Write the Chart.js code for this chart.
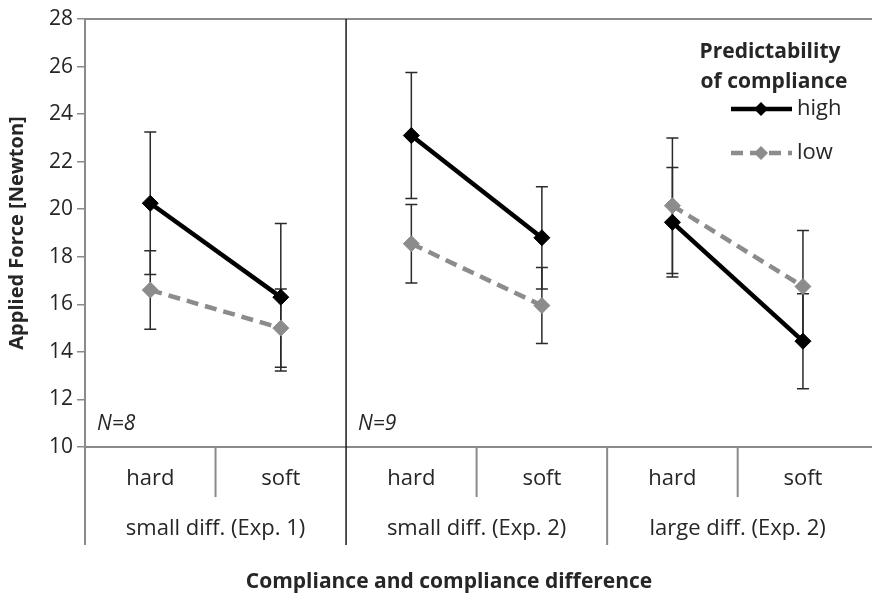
<!DOCTYPE html>
<html>
<head>
<meta charset="utf-8">
<script src="https://cdn.jsdelivr.net/npm/chart.js@4.4.1/dist/chart.umd.min.js"></script>
<style>
  html, body { margin: 0; padding: 0; background: #fff; }
  #wadah { width: 872px; height: 594px; }
</style>
</head>
<body>
<div id="wadah"><canvas id="grafik" width="872" height="594"></canvas></div>
<script>
// ── data yang dibaca dari gambar ──
const kategori   = ['hard', 'soft', 'hard', 'soft', 'hard', 'soft'];
const labelGrup  = ['small diff. (Exp. 1)', 'small diff. (Exp. 2)', 'large diff. (Exp. 2)'];
const labelN     = ['N=8', 'N=9'];
const nilaiHigh  = [20.25, 16.3, 23.1, 18.8, 19.45, 14.45];
const galatHigh  = [3.0, 3.1, 2.65, 2.15, 2.3, 2.0];
const nilaiLow   = [16.6, 15.0, 18.55, 15.95, 20.15, 16.75];
const galatLow   = [1.65, 1.65, 1.65, 1.6, 2.85, 2.35];
const sumbuY     = { min: 10, max: 28, langkah: 2 };

const hurufDasar = '"Open Sans", Lato, sans-serif';
const warnaAbu   = '#8a8a8a';
const warnaTeks  = '#262626';

// ubah array nilai menjadi titik {x, y} berdasarkan indeks kategori
const keTitik = arr => arr.map((v, i) => ({ x: i, y: v }));

// garis tidak disambung antar kelompok (soft -> hard berikutnya)
const warnaSegmen = warna => c => (c.p0DataIndex % 2 === 1 ? 'rgba(0,0,0,0)' : warna);

// plugin: batang galat (error bar) digambar di bawah garis & penanda
const pluginGalat = {
  id: 'galat',
  beforeDatasetsDraw(chart) {
    const { ctx, scales: { x, y } } = chart;
    const daftar = [[nilaiHigh, galatHigh], [nilaiLow, galatLow]];
    ctx.save();
    ctx.strokeStyle = '#2a2a2a';
    ctx.lineWidth = 1.5;
    daftar.forEach(([nilai, galat]) => {
      nilai.forEach((v, i) => {
        const px = x.getPixelForValue(i);
        const atas = y.getPixelForValue(v + galat[i]);
        const bawah = y.getPixelForValue(v - galat[i]);
        ctx.beginPath();
        ctx.moveTo(px, atas); ctx.lineTo(px, bawah);
        ctx.moveTo(px - 6, atas); ctx.lineTo(px + 6, atas);
        ctx.moveTo(px - 6, bawah); ctx.lineTo(px + 6, bawah);
        ctx.stroke();
      });
    });
    ctx.restore();
  }
};

// plugin: bingkai, label kategori bertingkat, judul sumbu x, N dan legenda
const pluginBingkai = {
  id: 'bingkai',
  beforeDatasetsDraw(chart) {
    const { ctx, chartArea: area, scales: { x, y } } = chart;
    const lebar = chart.width;
    const yBawah = y.getPixelForValue(sumbuY.min);
    const yAtas = y.getPixelForValue(sumbuY.max);
    const batasLabel = yBawah + 98;   // akhir baris label kelompok
    const batasKat = yBawah + 50;     // akhir baris label hard/soft

    ctx.save();
    ctx.lineWidth = 2;
    // garis atas dan garis dasar
    ctx.strokeStyle = warnaAbu;
    ctx.beginPath();
    ctx.moveTo(area.left, yAtas); ctx.lineTo(lebar, yAtas);
    ctx.moveTo(area.left, yBawah); ctx.lineTo(lebar, yBawah);
    // perpanjangan sumbu kiri ke area label
    ctx.moveTo(area.left, yBawah); ctx.lineTo(area.left, batasLabel);
    // pemisah antar kelompok di area label
    ctx.moveTo(x.getPixelForValue(3.5), yBawah); ctx.lineTo(x.getPixelForValue(3.5), batasLabel);
    // pemisah hard/soft
    [0.5, 2.5, 4.5].forEach(p => {
      ctx.moveTo(x.getPixelForValue(p), yBawah); ctx.lineTo(x.getPixelForValue(p), batasKat);
    });
    ctx.stroke();
    // garis hitam pemisah eksperimen
    ctx.strokeStyle = '#1a1a1a';
    ctx.lineWidth = 1.5;
    ctx.beginPath();
    ctx.moveTo(x.getPixelForValue(1.5), yAtas); ctx.lineTo(x.getPixelForValue(1.5), batasLabel);
    ctx.stroke();

    // label kategori dan kelompok
    ctx.fillStyle = warnaTeks;
    ctx.textAlign = 'center';
    ctx.textBaseline = 'middle';
    ctx.font = '22px ' + hurufDasar;
    kategori.forEach((k, i) => ctx.fillText(k, x.getPixelForValue(i), yBawah + 32));
    labelGrup.forEach((g, i) => ctx.fillText(g, x.getPixelForValue(2 * i + 0.5), yBawah + 82));

    // judul sumbu x
    ctx.font = 'bold 21px ' + hurufDasar;
    ctx.fillText('Compliance and compliance difference', 449, yBawah + 135);

    // label N
    ctx.font = 'italic 21px ' + hurufDasar;
    ctx.textAlign = 'left';
    labelN.forEach((n, i) => ctx.fillText(n, x.getPixelForValue(-0.5 + 2 * i) + 12, yBawah - 23));

    // legenda
    ctx.textAlign = 'center';
    ctx.font = 'bold 21px ' + hurufDasar;
    ctx.fillText('Predictability', 770, 52);
    ctx.fillText('of compliance', 774, 82);
    const baris = [
      { label: 'high', warna: '#000', dash: [], ty: 109 },
      { label: 'low', warna: '#8c8c8c', dash: [12, 7], ty: 153 }
    ];
    baris.forEach(b => {
      ctx.strokeStyle = b.warna;
      ctx.lineWidth = 4.5;
      ctx.setLineDash(b.dash);
      ctx.beginPath();
      ctx.moveTo(731, b.ty); ctx.lineTo(792, b.ty);
      ctx.stroke();
      ctx.setLineDash([]);
      ctx.fillStyle = b.warna;
      ctx.beginPath();
      ctx.moveTo(761, b.ty - 7); ctx.lineTo(768, b.ty); ctx.lineTo(761, b.ty + 7); ctx.lineTo(754, b.ty);
      ctx.closePath(); ctx.fill();
      ctx.fillStyle = warnaTeks;
      ctx.textAlign = 'left';
      ctx.font = '22px ' + hurufDasar;
      ctx.fillText(b.label, 797, b.ty);
    });
    ctx.restore();
  }
};

new Chart(document.getElementById('grafik'), {
  type: 'line',
  data: {
    datasets: [
      {
        label: 'low',
        data: keTitik(nilaiLow),
        borderColor: '#8c8c8c',
        borderWidth: 4.5,
        borderDash: [12, 7],
        pointStyle: 'rectRot',
        pointRadius: 8,
        pointBackgroundColor: '#8c8c8c',
        pointBorderColor: '#8c8c8c',
        pointBorderWidth: 1,
        segment: { borderColor: warnaSegmen('#8c8c8c') }
      },
      {
        label: 'high',
        data: keTitik(nilaiHigh),
        borderColor: '#000',
        borderWidth: 4.5,
        pointStyle: 'rectRot',
        pointRadius: 8,
        pointBackgroundColor: '#000',
        pointBorderColor: '#000',
        pointBorderWidth: 1,
        segment: { borderColor: warnaSegmen('#000') }
      }
    ]
  },
  options: {
    responsive: false,
    animation: false,
    layout: { padding: { top: 19, bottom: 147, left: 0, right: 0 } },
    plugins: { legend: { display: false }, tooltip: { enabled: false } },
    scales: {
      x: { type: 'linear', display: false, min: -0.5, max: 5.46 },
      y: {
        min: sumbuY.min,
        max: sumbuY.max,
        ticks: { stepSize: sumbuY.langkah, color: warnaTeks, font: { size: 21, family: hurufDasar }, padding: 4 },
        grid: { drawOnChartArea: false, tickLength: 8, color: warnaAbu, lineWidth: 1.5 },
        border: { color: warnaAbu, width: 2 },
        title: {
          display: true,
          text: 'Applied Force [Newton]',
          color: warnaTeks,
          font: { size: 20, weight: 'bold', family: hurufDasar },
          padding: { top: 5, bottom: 0 }
        },
        afterFit: s => { s.width = 85; }
      }
    }
  },
  plugins: [pluginBingkai, pluginGalat]
});
</script>
</body>
</html>
